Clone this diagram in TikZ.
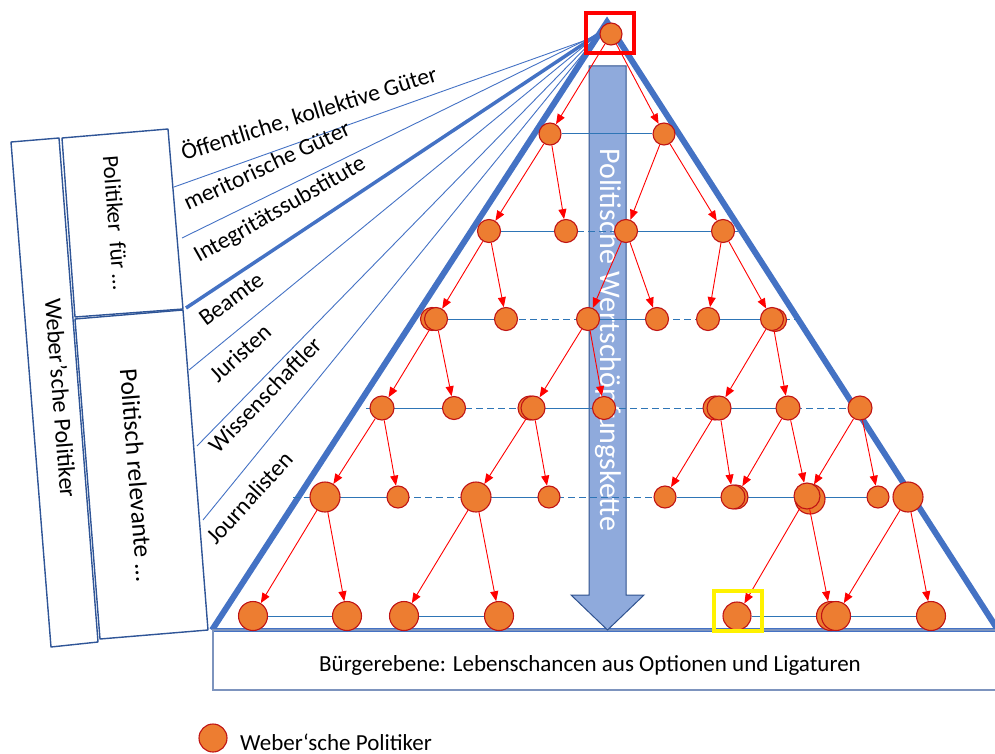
\documentclass[tikz,border=0pt]{standalone}
\usepackage{fontspec}
\setmainfont{Carlito}
\usetikzlibrary{arrows.meta}
\definecolor{pyrblue}{RGB}{68,114,196}
\definecolor{boxblue}{RGB}{47,85,151}
\definecolor{lvlblue}{RGB}{46,117,182}
\definecolor{arrfill}{RGB}{143,170,220}
\definecolor{arrdraw}{RGB}{47,82,143}
\definecolor{polfill}{RGB}{237,125,49}
\definecolor{poldraw}{RGB}{192,20,20}
\definecolor{basebox}{RGB}{125,148,190}
\pgfdeclarelayer{back}
\pgfdeclarelayer{links}
\pgfsetlayers{back,links,main}
\tikzset{
  pol/.style={circle, fill=polfill, draw=poldraw, line width=1.1pt, inner sep=0pt, minimum size=#1},
  pol/.default=23pt,
  flow/.style={draw=red, line width=0.9pt, -{Triangle[length=10pt,width=8pt]}},
  lvl/.style={draw=lvlblue, line width=1pt},
  lvldash/.style={draw=lvlblue, line width=1pt, dash pattern=on 7pt off 4pt},
  fan/.style={draw=pyrblue, line width=0.9pt},
  tag/.style={font=\fontsize{23.5}{26}\selectfont, anchor=base west, inner sep=0pt},
  colbox/.style={draw=boxblue, line width=1.4pt, line join=round},
  coltext/.style={font=\fontsize{24}{28}\selectfont, rotate=-85.5, inner sep=0pt},
}
\begin{document}
\begin{tikzpicture}[x=1pt,y=-1pt]
\useasboundingbox (0,0) rectangle (995,754);

% ---------- background: pyramid, value-chain arrow, fan of roles ----------
\begin{pgfonlayer}{back}
  \coordinate (pl) at (212,630);
  \coordinate (pt) at (607,22);
  \coordinate (pr) at (998,630);
  \draw[pyrblue, line width=6pt, line join=miter] (pl) -- (pt) -- (pr);
  \draw[pyrblue, line width=4.5pt] (pl) -- (pr);

  % citizens' level
  \coordinate (bb1) at (1002,630);
  \coordinate (bb2) at (213,630);
  \coordinate (bb3) at (213,690);
  \coordinate (bb4) at (1002,690);
  \draw[basebox, line width=1.5pt] (bb1) -- (bb2) -- (bb3) -- (bb4);
  \node[font=\fontsize{23}{26}\selectfont] (citizens) at (590,665)
    {Bürgerebene: Lebenschancen aus Optionen und Ligaturen};

  % value-chain arrow
  \draw[fill=arrfill, draw=arrdraw, line width=1pt]
    (589,66) -- (626,66) -- (626,595) -- (644,595) -- (607.5,630)
    -- (571,595) -- (589,595) -- cycle;
  \node[rotate=-90, text=white, font=\fontsize{30}{33}\selectfont, inner sep=0pt]
    (chain) at (608,340) {Politische Wertschöpfungskette};

  % fan of roles
  \coordinate (apex) at (600,33);
  \coordinate (g1) at (174,187);
  \coordinate (g2) at (182,238);
  \coordinate (g3) at (186,308);
  \coordinate (g4) at (189,370);
  \coordinate (g5) at (197,446);
  \coordinate (g6) at (203,520);
  \draw[fan] (g1) -- (620,28);
  \draw[fan] (g2) -- (apex);
  \draw[fan, line width=3.5pt] (g3) -- (apex);
  \draw[fan] (g4) -- (apex);
  \draw[fan] (g5) -- (apex);
  \draw[fan] (g6) -- (apex);
\end{pgfonlayer}

% role labels
\node[tag, rotate=17.5] (r1) at (184,161) {Öffentliche, kollektive Güter};
\node[tag, rotate=25]   (r2) at (188,211) {meritorische Güter};
\node[tag, rotate=29.5] (r3) at (199,263) {Integritätssubstitute};
\node[tag, rotate=36.5] (r4) at (206,327) {Beamte};
\node[tag, rotate=42.5] (r5) at (218,384) {Juristen};
\node[tag, rotate=46]   (r6) at (218,455) {Wissenschaftler};
\node[tag, rotate=47.5] (r7) at (216,546) {Journalisten};

% ---------- left column boxes ----------
\draw[colbox] (11,142) -- (59,138) -- (98,642) -- (51,647) -- cycle;
\draw[colbox] (62,138) -- (168,129) -- (183,309) -- (75,317) -- cycle;
\draw[colbox] (75,319) -- (183,310) -- (208,630) -- (100,639) -- cycle;
\node[coltext] (wp) at (61,398) {Weber’sche Politiker};
\node[coltext, font=\fontsize{23}{28}\selectfont] (pf) at (116,223) {Politiker~ für …};
\node[coltext, font=\fontsize{25.5}{28}\selectfont] (pr) at (137,475) {Politisch relevante …};

% ---------- politicians ----------
\node[pol=22pt] (t) at (611,34) {};
% level 1
\node[pol=22pt] (a1) at (550,134) {};
\node[pol=22pt] (a2) at (664,134) {};
% level 2
\node[pol] (b1) at (489,231) {};
\node[pol] (b2) at (566,231) {};
\node[pol] (b3) at (626,231) {};
\node[pol] (b4) at (723,231) {};
% level 3
\node[pol] (c1x) at (432,319) {};
\node[pol] (c1) at (436,319) {};
\node[pol] (c2) at (506,319) {};
\node[pol] (c3) at (588,319) {};
\node[pol] (c4) at (657,319) {};
\node[pol] (c5) at (708,319) {};
\node[pol] (c6x) at (775,320) {};
\node[pol] (c6) at (772,319) {};
% level 4
\node[pol=24pt] (d1) at (382,408) {};
\node[pol] (d2) at (454,408) {};
\node[pol=24pt] (d3x) at (530,408) {};
\node[pol=24pt] (d3) at (533,408) {};
\node[pol] (d4) at (604,408) {};
\node[pol=24pt] (d5x) at (715,408) {};
\node[pol=24pt] (d5) at (719,408) {};
\node[pol=24pt] (d6) at (788,408) {};
\node[pol=24pt] (d7) at (860,408) {};
% level 5
\node[pol=30pt] (e1) at (325,497) {};
\node[pol=22pt] (e2) at (398,497) {};
\node[pol=30pt] (e3) at (476,497) {};
\node[pol=22pt] (e4) at (549,497) {};
\node[pol=22pt] (e5) at (665,497) {};
\node[pol=24pt] (e6x) at (736,497) {};
\node[pol=24pt] (e6) at (733,497) {};
\node[pol=30pt] (e7x) at (810,499) {};
\node[pol=26pt] (e7) at (807,496) {};
\node[pol=22pt] (e8) at (878,497) {};
\node[pol=30pt] (e9) at (908,497) {};
% level 6
\node[pol=29pt] (f1) at (253,616) {};
\node[pol=29pt] (f2) at (347,616) {};
\node[pol=29pt] (f3) at (404,616) {};
\node[pol=29pt] (f4) at (499,616) {};
\node[pol=28pt] (f5) at (737,616) {};
\node[pol=29pt] (f6) at (831,616) {};
\node[pol=29pt] (f6b) at (836,616) {};
\node[pol=29pt] (f7) at (931,616) {};

% ---------- links within a level ----------
\begin{pgfonlayer}{links}
  \draw[lvl] (a1) -- (a2);
  \coordinate (l2e) at (742,231);
  \draw[lvldash] (b1.center) -- (l2e);
  \draw[lvl] (b1) -- (b2);
  \draw[lvl] (b3) -- (b4);
  \coordinate (l3w) at (420,319);
  \coordinate (l3e) at (796,319);
  \draw[lvldash] (l3w) -- (l3e);
  \draw[lvl] (c1) -- (c2);
  \draw[lvl] (c3) -- (c4);
  \draw[lvl] (c5) -- (c6);
  \coordinate (l4w) at (366,408);
  \coordinate (l4e) at (848,408);
  \draw[lvldash] (l4w) -- (l4e);
  \draw[lvl] (d1) -- (d2);
  \draw[lvl] (d3) -- (d4);
  \draw[lvl] (d5) -- (d6);
  \coordinate (l5w) at (293,497);
  \draw[lvldash] (l5w) -- (e8.center);
  \draw[lvl] (e1) -- (e2);
  \draw[lvl] (e3) -- (e4);
  \draw[lvl] (e5) -- (e8);
  \draw[lvl] (f1) -- (f2);
  \draw[lvl] (f3) -- (f4);
  \draw[lvl] (f5) -- (f7);
\end{pgfonlayer}

% ---------- delegation arrows ----------
\draw[flow] (t) -- (a1);
\draw[flow] (t) -- (a2);
\draw[flow] (a1) -- (b1);
\draw[flow] (a1) -- (b2);
\draw[flow] (a2) -- (b3);
\draw[flow] (a2) -- (b4);
\draw[flow] (b1) -- (c1);
\draw[flow] (b1) -- (c2);
\draw[flow] (b3) -- (c3);
\draw[flow] (b3) -- (c4);
\draw[flow] (b4) -- (c5);
\draw[flow] (b4) -- (c6);
\draw[flow] (c1) -- (d1);
\draw[flow] (c1) -- (d2);
\draw[flow] (c3) -- (d3);
\draw[flow] (c3) -- (d4);
\draw[flow] (c6) -- (d5);
\draw[flow] (c6) -- (d6);
\draw[flow] (d1) -- (e1);
\draw[flow] (d1) -- (e2);
\draw[flow] (d3) -- (e3);
\draw[flow] (d3) -- (e4);
\draw[flow] (d5) -- (e5);
\draw[flow] (d5) -- (e6);
\draw[flow] (d6) -- (e6x);
\draw[flow] (d6) -- (e7);
\draw[flow] (d7) -- (e7);
\draw[flow] (d7) -- (e8);
\draw[flow] (e1) -- (f1);
\draw[flow] (e1) -- (f2);
\draw[flow] (e3) -- (f3);
\draw[flow] (e3) -- (f4);
\draw[flow] (e7) -- (f5);
\draw[flow] (e7) -- (f6);
\draw[flow] (e9) -- (f6b);
\draw[flow] (e9) -- (f7);

% ---------- highlight frames ----------
\draw[red, line width=4pt] (586,13) rectangle (634,53);
\draw[yellow, line width=4pt] (714,591) rectangle (762,631);

% ---------- legend ----------
\node[pol=28pt] (leg) at (213,738) {};
\node[anchor=west, font=\fontsize{23}{26}\selectfont, inner sep=0pt] (legtext) at (240,742) {Weber‘sche Politiker};
\end{tikzpicture}
\end{document}
